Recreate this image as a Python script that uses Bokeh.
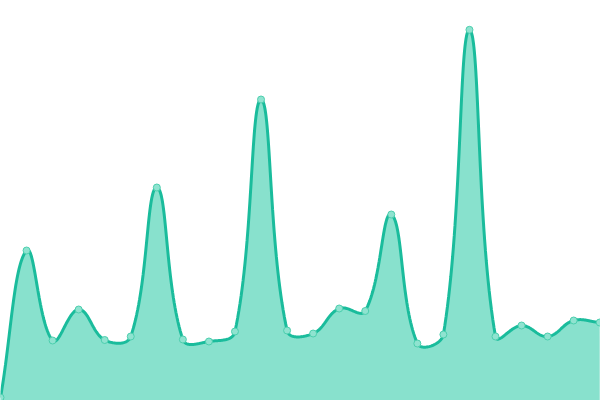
import numpy as np
from bokeh.plotting import figure
from bokeh.models import Range1d
from bokeh.embed import file_html
from bokeh.resources import INLINE

# data
idx = list(range(24))
values = [3, 150, 60, 91, 60.5, 64, 213, 61, 59, 69, 301, 70, 67, 92, 89.5,
          186, 57, 66, 370.7, 64, 75, 64, 80, 78]

line_color = "#1abc9c"
fill_color = "#88e1cd"

W, H = 600, 400
XMAX = 23.03
tension = 0.4

# smooth path for rendering (distance-weighted spline, computed in pixel space)
xs = np.array(idx, dtype=float) * W / XMAX
ys = np.array(values, dtype=float)
n = len(xs)
prev_c, next_c = [], []
for i in range(n):
    p0 = np.array([xs[max(i - 1, 0)], ys[max(i - 1, 0)]])
    p1 = np.array([xs[i], ys[i]])
    p2 = np.array([xs[min(i + 1, n - 1)], ys[min(i + 1, n - 1)]])
    d01 = np.hypot(*(p1 - p0))
    d12 = np.hypot(*(p2 - p1))
    s01 = d01 / (d01 + d12) if d01 + d12 > 0 else 0
    s12 = d12 / (d01 + d12) if d01 + d12 > 0 else 0
    fa, fb = tension * s01, tension * s12
    prev_c.append(p1 - fa * (p2 - p0))
    next_c.append(p1 + fb * (p2 - p0))

cx, cy = [], []
t = np.linspace(0, 1, 40)
for i in range(n - 1):
    P1 = np.array([xs[i], ys[i]])
    P2 = np.array([xs[i + 1], ys[i + 1]])
    C1, C2 = next_c[i], prev_c[i + 1]
    bx = (1 - t) ** 3 * P1[0] + 3 * (1 - t) ** 2 * t * C1[0] + 3 * (1 - t) * t ** 2 * C2[0] + t ** 3 * P2[0]
    by = (1 - t) ** 3 * P1[1] + 3 * (1 - t) ** 2 * t * C1[1] + 3 * (1 - t) * t ** 2 * C2[1] + t ** 3 * P2[1]
    if i > 0:
        bx, by = bx[1:], by[1:]
    cx.extend(bx * XMAX / W)
    cy.extend(by)

p = figure(width=W, height=H, output_backend="svg", toolbar_location=None,
           x_range=Range1d(0, XMAX), y_range=Range1d(0, 400),
           min_border=0, min_border_left=0, min_border_right=0,
           min_border_top=0, min_border_bottom=0)
p.axis.visible = False
p.grid.visible = False
p.outline_line_color = None
p.background_fill_color = "white"
p.border_fill_color = "white"

p.varea(x=cx, y1=0, y2=cy, fill_color=fill_color, fill_alpha=1.0)
p.line(x=cx, y=cy, line_color=line_color, line_width=3)
p.scatter(x=idx, y=values, size=7, fill_color="#8fe3d0", line_color="#4ccfae", line_width=1)

html = file_html(p, INLINE)
html = html.replace("</head>", "<style>html,body{margin:0;padding:0;overflow:hidden}</style></head>")
open("out.html", "w").write(html)
